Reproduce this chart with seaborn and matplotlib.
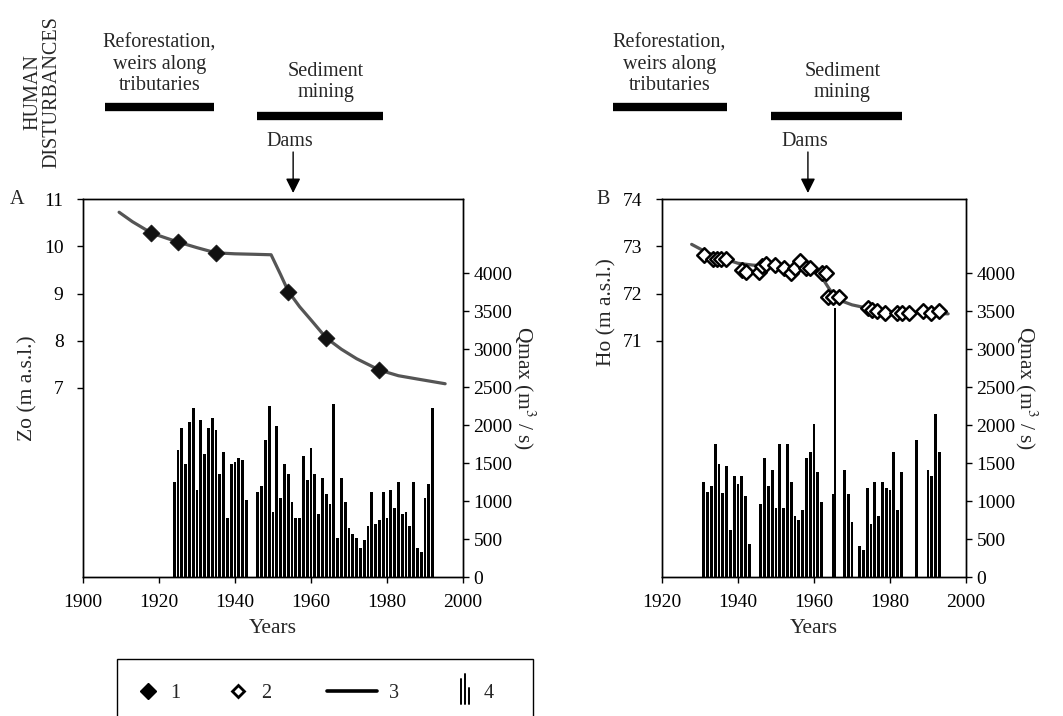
"""
Zo / Ho decline and annual peak discharge (Qmax) - two panel figure
"""

import pandas as pd
import matplotlib.pyplot as plt
import matplotlib.transforms as mtransforms
import seaborn as sns
from matplotlib.lines import Line2D
from matplotlib.patches import Rectangle
from matplotlib.legend_handler import HandlerBase

# ---- panel A data ----
years_bars_a = list(range(1924, 1944)) + list(range(1946, 1993))
qmax_a = [1246, 1671, 1965, 1487, 2044, 2228, 1141, 2070, 1623, 1965,
          2096, 1938, 1355, 1649, 772, 1491, 1517, 1570, 1544, 1009,
          1114, 1193, 1807, 2254, 851, 1991, 1036, 1491, 1351, 983,
          772, 772, 1596, 1272, 1702, 1351, 825,
          1298, 1088, 956, 2272, 509, 1298, 983, 641, 562, 509,
          377, 483, 667, 1114, 693, 746, 1114, 772, 1141, 904,
          1246, 825, 851, 667, 1246, 377, 325, 1036, 1220, 2228]

years_zo = [1918, 1925, 1935, 1954, 1964, 1978]
zo = [10.28, 10.09, 9.86, 9.03, 8.06, 7.38]

years_curve_a = [1909.5, 1913, 1918, 1922, 1925, 1930, 1935, 1940, 1945, 1949.5,
                 1952, 1954, 1957, 1960, 1964, 1968, 1972, 1978, 1983, 1988, 1995.3]
curve_a = [10.72, 10.52, 10.28, 10.17, 10.09, 9.97, 9.86, 9.84, 9.83, 9.82,
           9.40, 9.05, 8.72, 8.44, 8.06, 7.82, 7.62, 7.38, 7.26, 7.19, 7.09]

# ---- panel B data ----
years_bars_b = (list(range(1931, 1944)) + list(range(1946, 1963))
                + [1965, 1965.5, 1968, 1969, 1970] + list(range(1972, 1984))
                + [1987, 1990, 1991, 1992, 1993])
qmax_b = [1254, 1123, 1202, 1754, 1491, 1105, 1465, 622, 1333, 1228, 1333, 1070, 438,
          965, 1570, 1202, 1412, 912, 1754, 912, 1754, 1254, 807, 754, 886,
          1570, 1649, 2017, 1386, 991,
          1096, 3540, 1412, 1096, 728,
          412, 359, 1175, 702, 1254, 807, 1254, 1175, 1149, 1649, 886, 1386,
          1807, 1412, 1333, 2149, 1649]

years_ho = [1931.1, 1933.5, 1934.6, 1935.6, 1936.8, 1941, 1942, 1945.5, 1946.2,
            1947.3, 1949.7, 1952.2, 1954, 1955, 1956.3, 1957.9, 1958.9, 1962,
            1963.1, 1963.8, 1965, 1966.6, 1974.1, 1975.3, 1976.7, 1978.7,
            1981.8, 1983.1, 1985.1, 1988.8, 1990.7, 1993]
ho = [72.81, 72.73, 72.73, 72.73, 72.73, 72.50, 72.46, 72.46, 72.58,
      72.62, 72.60, 72.53, 72.43, 72.53, 72.69, 72.53, 72.55, 72.43,
      72.44, 71.92, 71.92, 71.92, 71.69, 71.65, 71.63, 71.58,
      71.58, 71.58, 71.58, 71.64, 71.58, 71.64]

years_curve_b = [1927.8, 1932, 1936, 1940, 1944, 1950, 1956, 1960, 1962, 1964,
                 1966, 1970, 1974, 1980, 1988, 1995.3]
curve_b = [73.04, 72.86, 72.74, 72.64, 72.60, 72.58, 72.55, 72.47, 72.35, 72.10,
           71.88, 71.76, 71.69, 71.62, 71.59, 71.57]

# ---- human disturbance periods (years) ----
reforest_a = (1905.8, 1934.5)
mining_a = (1945.8, 1979.0)
dams_a = 1955.3
reforest_b = (1907.0, 1937.0)
mining_b = (1948.7, 1983.2)
dams_b = 1958.4

qmax_ticks = list(range(0, 4001, 500))
legend_labels = ['1', '2', '3', '4']

W, H = 1063, 716


def fy(y_px):
    """pixel row from top -> figure fraction"""
    return 1 - y_px / H


def box(left, right, top=199, bottom=577):
    return [left / W, 1 - bottom / H, (right - left) / W, (bottom - top) / H]


class BarsHandler(HandlerBase):
    """legend glyph: three vertical strokes of different height"""
    def create_artists(self, legend, orig_handle, xdescent, ydescent,
                       width, height, fontsize, trans):
        cx = width / 2 - xdescent
        cy = height / 2 - ydescent
        arts = []
        for dx, top in [(-2.7, 8), (0, 12), (2.7, 2)]:
            arts.append(Line2D([cx + dx, cx + dx], [cy - 10, cy + top],
                               color='black', lw=1.4, transform=trans))
        return arts


class BarsKey:
    pass


def draw_panel(fig, rect, bar_years, bar_q, curve_x, curve_y, pts_x, pts_y,
               filled, xlim, xticks, ylim, yticks, ylabel, letter, letter_x,
               reforest, mining, dams, ylabel_pos):
    ax = fig.add_axes(rect)
    ax2 = ax.twinx()

    # discharge bars on the right axis, behind the level curve
    ax2.bar(bar_years, bar_q, width=0.72, color='black', linewidth=0)
    ax2.set_ylim(0, 4975)
    ax2.set_yticks(qmax_ticks)
    ax2.set_ylabel('Qmax (m$^3$ / s)', rotation=270, va='bottom', fontsize=15.5)
    ax2.yaxis.set_label_coords(ylabel_pos[2], 0.5)

    ax.set_zorder(ax2.get_zorder() + 1)
    ax.patch.set_visible(False)

    curve = pd.DataFrame({'year': curve_x, 'level': curve_y})
    sns.lineplot(data=curve, x='year', y='level', color='#555555',
                 linewidth=2.3, ax=ax, sort=False)
    pts = pd.DataFrame({'year': pts_x, 'level': pts_y})
    if filled:
        sns.scatterplot(data=pts, x='year', y='level', marker='D', s=75,
                        color='#111111', edgecolor='#111111', linewidth=0.5,
                        ax=ax, zorder=3)
    else:
        sns.scatterplot(data=pts, x='year', y='level', marker='D', s=55,
                        color='white', edgecolor='black', linewidth=1.8,
                        ax=ax, zorder=3)

    ax.set_xlim(*xlim)
    ax.set_xticks(xticks)
    ax.set_ylim(*ylim)
    ax.set_yticks(yticks)
    ax.set_xlabel('Years', fontsize=15.5, labelpad=6)
    ax.set_ylabel(ylabel, fontsize=15.5)
    ax.yaxis.set_label_coords(ylabel_pos[0], ylabel_pos[1])

    for a in (ax, ax2):
        for s in a.spines.values():
            s.set_visible(True)
            s.set_color('black')
            s.set_linewidth(1.0)
        a.tick_params(labelsize=14, length=4, width=1, colors='black')
        a.grid(False)
    ax.tick_params(axis='x', pad=8)
    ax.tick_params(axis='y', pad=10)

    fig.text(letter_x / W, fy(199), letter, fontsize=14.5, ha='left', va='center')

    # human disturbances above the panel
    trans = mtransforms.blended_transform_factory(ax.transData, fig.transFigure)
    ax.plot(reforest, [fy(107)] * 2, color='black', lw=6, transform=trans,
            clip_on=False, solid_capstyle='butt')
    ax.plot(mining, [fy(116)] * 2, color='black', lw=6, transform=trans,
            clip_on=False, solid_capstyle='butt')
    ax.text(sum(reforest) / 2, fy(64), 'Reforestation,\nweirs along\ntributaries',
            transform=trans, ha='center', va='center', fontsize=14.5,
            linespacing=1.15)
    ax.text(sum(mining) / 2 + 1.5, fy(82), 'Sediment\nmining', transform=trans,
            ha='center', va='center', fontsize=14.5, linespacing=1.15)
    ax.text(dams - 0.8, fy(141), 'Dams', transform=trans, ha='center',
            va='center', fontsize=14.5)
    ax.annotate('', xy=(dams, fy(193)), xytext=(dams, fy(152)),
                xycoords=trans, textcoords=trans, annotation_clip=False,
                arrowprops=dict(arrowstyle='-|>', color='black', lw=1,
                                mutation_scale=22, shrinkA=0, shrinkB=0))
    return ax, ax2


sns.set_theme(style='ticks')
plt.rcParams['font.family'] = ['Liberation Serif', 'DejaVu Serif']
plt.rcParams['mathtext.fontset'] = 'stix'

fig = plt.figure(figsize=(W / 100, H / 100), dpi=100)
fig.patch.set_facecolor('white')

draw_panel(fig, box(83, 463), years_bars_a, qmax_a, years_curve_a, curve_a,
           years_zo, zo, True, (1900, 2000), list(range(1900, 2001, 20)),
           (3, 11), [7, 8, 9, 10, 11], 'Zo (m a.s.l.)', 'A', 10,
           reforest_a, mining_a, dams_a, (-0.12, 0.5, 1.125))

draw_panel(fig, box(662, 966), years_bars_b, qmax_b, years_curve_b, curve_b,
           years_ho, ho, False, (1920, 2000), list(range(1920, 2001, 20)),
           (66, 74), [71, 72, 73, 74], 'Ho (m a.s.l.)', 'B', 596,
           reforest_b, mining_b, dams_b, (-0.15, 0.7, 1.155))

fig.text(42 / W, fy(92), 'HUMAN\nDISTURBANCES', rotation=90, ha='center',
         va='center', fontsize=14.5, linespacing=1.0, multialignment='center')

# legend, its frame runs off the bottom edge as in the source
fig.add_artist(Rectangle((117 / W, -0.02), 416 / W, (716 - 659) / H + 0.02,
                         transform=fig.transFigure, fill=False,
                         edgecolor='black', linewidth=1))
handles = [
    Line2D([], [], marker='D', color='black', ls='none', ms=8),
    Line2D([], [], marker='D', mfc='white', mec='black', mew=2, ls='none', ms=6.5),
    Line2D([], [], color='black', lw=2.6),
    BarsKey(),
]
# one small legend per entry: (left edge of glyph box px, glyph length, text pad)
entry_layout = [(134, 1.4, 0.4), (224, 1.4, 0.45), (327, 2.5, 0.6), (451, 1.4, 0.2)]
for h, lab, (x0, hl, pad) in zip(handles, legend_labels, entry_layout):
    fig.legend([h], [lab], handler_map={BarsKey: BarsHandler()},
               loc='center left', bbox_to_anchor=(x0 / W, fy(693)),
               frameon=False, borderpad=0, borderaxespad=0,
               handlelength=hl, handletextpad=pad, fontsize=14.5)

fig.savefig('out.png', dpi=100)
